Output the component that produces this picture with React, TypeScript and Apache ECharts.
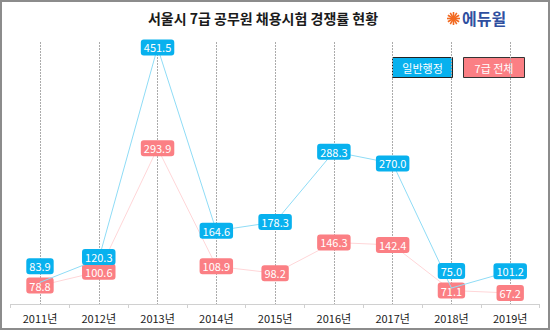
import React, { useEffect, useRef } from "react";
import * as echarts from "echarts";

const years = ["2011년", "2012년", "2013년", "2014년", "2015년", "2016년", "2017년", "2018년", "2019년"];
const adminValues = [83.9, 120.3, 451.5, 164.6, 178.3, 288.3, 270.0, 75.0, 101.2];
const totalValues = [78.8, 100.6, 293.9, 108.9, 98.2, 146.3, 142.4, 71.1, 67.2];
const adminLabelShift = [-16, -2, 0, 0, 0, 0, 0, -17, 0];
const seriesNames = ["일반행정", "7급 전체"];
const titleText = "서울시 7급 공무원 채용시험 경쟁률 현황";
const logoText = "에듀윌";

const FONT = "'Noto Sans CJK KR', 'Noto Sans', sans-serif";
const BLUE = "#08b1ee";
const PINK = "#fb7f84";

function sunburst(cx: number, cy: number, r: number, n: number) {
  const children: any[] = [];
  for (let i = 0; i < n; i++) {
    const a = (Math.PI * 2 * i) / n;
    children.push({
      type: "line",
      shape: {
        x1: cx + Math.cos(a) * 1.5,
        y1: cy + Math.sin(a) * 1.5,
        x2: cx + Math.cos(a) * r,
        y2: cy + Math.sin(a) * r,
      },
      style: { stroke: "#f26a21", lineWidth: 1.6 },
    });
  }
  children.push({ type: "circle", shape: { cx, cy, r: 2 }, style: { fill: "#f26a21" } });
  return { type: "group", children };
}

export default function App() {
  const ref = useRef<HTMLDivElement>(null);
  useEffect(() => {
    if (!ref.current) return;
    const chart = echarts.init(ref.current, null, { renderer: "svg" });
    const fmt = (p: any) => Number(p.value).toFixed(1);
    const labelBase = {
      show: true,
      position: "inside",
      color: "#ffffff",
      fontSize: 11,
      fontFamily: FONT,
      padding: [3, 3, 2, 3],
      borderRadius: 3,
      formatter: fmt,
    };
    chart.setOption({
      animation: false,
      backgroundColor: "#ffffff",
      grid: { left: 10.6, right: 10.4, top: 42, bottom: 26 },
      xAxis: {
        type: "category",
        data: years,
        boundaryGap: true,
        axisLine: { lineStyle: { color: "#d0d0d0", width: 1 } },
        axisTick: { show: true, length: 4, lineStyle: { color: "#d0d0d0" } },
        axisLabel: { color: "#1a1a1a", fontSize: 11, fontFamily: FONT, margin: 8 },
        splitLine: {
          show: true,
          alignWithLabel: true,
          lineStyle: { color: "#ababab", type: [2, 1], width: 1 },
        },
      },
      yAxis: {
        type: "value",
        min: 50,
        max: 460,
        show: false,
        splitLine: { show: false },
      },
      series: [
        {
          name: seriesNames[1],
          type: "line",
          data: totalValues,
          symbol: "circle",
          symbolSize: 1,
          showSymbol: true,
          itemStyle: { color: "#ffd6d8" },
          lineStyle: { color: "#ffd6d8", width: 1 },
          label: { ...labelBase, backgroundColor: PINK },
          labelLayout: { hideOverlap: false },
          z: 3,
        },
        {
          name: seriesNames[0],
          type: "line",
          data: adminValues,
          symbol: "circle",
          symbolSize: 1,
          showSymbol: true,
          itemStyle: { color: "#8fdcf6" },
          lineStyle: { color: "#8fdcf6", width: 1 },
          label: { ...labelBase, backgroundColor: BLUE },
          labelLayout: (p: any) => ({ hideOverlap: false, dy: adminLabelShift[p.dataIndex] || 0 }),
          z: 4,
        },
      ],
      graphic: [
        {
          type: "rect",
          shape: { x: 1, y: 1, width: 548, height: 328 },
          style: { fill: "none", stroke: "#8c8c8c", lineWidth: 2 },
          z: 100,
        },
        {
          type: "text",
          x: 263,
          y: 18,
          style: {
            text: titleText,
            fontSize: 14,
            fontWeight: "bold",
            fontFamily: FONT,
            fill: "#1a1a1a",
            align: "center",
            verticalAlign: "middle",
          },
        },
        sunburst(453.5, 18.5, 6.5, 12),
        {
          type: "text",
          x: 462,
          y: 18,
          style: {
            text: logoText,
            fontSize: 16,
            fontWeight: "bold",
            fontFamily: FONT,
            fill: "#2f4f9f",
            align: "left",
            verticalAlign: "middle",
          },
        },
        {
          type: "group",
          z: 50,
          children: [
            {
              type: "rect",
              shape: { x: 392.5, y: 57.5, width: 60, height: 20 },
              style: { fill: BLUE, stroke: "#222222", lineWidth: 1 },
            },
            {
              type: "text",
              x: 422.5,
              y: 67.5,
              style: {
                text: seriesNames[0],
                fontSize: 11,
                fontFamily: FONT,
                fill: "#ffffff",
                align: "center",
                verticalAlign: "middle",
              },
            },
            {
              type: "rect",
              shape: { x: 463.5, y: 57.5, width: 61, height: 20 },
              style: { fill: PINK, stroke: "#333333", lineWidth: 1 },
            },
            {
              type: "text",
              x: 494,
              y: 67.5,
              style: {
                text: seriesNames[1],
                fontSize: 11,
                fontFamily: FONT,
                fill: "#ffffff",
                align: "center",
                verticalAlign: "middle",
              },
            },
          ],
        },
      ],
    });
    return () => chart.dispose();
  }, []);
  return (
    <div
      ref={ref}
      style={{ position: "fixed", left: 0, top: 0, width: 550, height: 330 }}
    />
  );
}
